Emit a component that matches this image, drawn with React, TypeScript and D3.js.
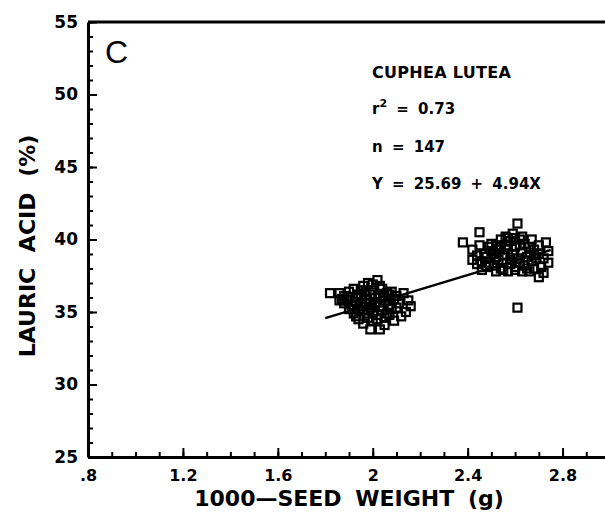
import React, { useEffect, useRef } from "react";
import * as d3 from "d3";

// seed weight (g) vs lauric acid (%) - Cuphea lutea
const smallSeeds: [number, number][] = [
  [1.82, 36.3], [1.86, 36.3], [1.88, 36.1], [1.9, 36.4], [1.92, 36.6], [1.94, 36.2],
  [1.96, 36.8], [1.98, 37.0], [2.02, 37.2], [2.0, 36.5], [2.04, 36.6], [2.06, 36.3],
  [2.08, 36.4], [2.1, 36.1], [2.13, 36.3], [2.15, 35.8], [2.16, 35.4], [2.14, 35.0],
  [2.12, 34.7], [2.09, 34.4], [2.05, 34.1], [2.03, 33.8], [1.99, 33.8], [1.96, 34.2],
  [1.94, 34.5], [1.92, 34.9], [1.9, 35.2], [1.88, 35.6], [1.87, 35.9], [1.89, 35.8],
  [1.91, 35.5], [1.93, 35.7], [1.95, 35.4], [1.97, 35.6], [1.99, 35.3], [2.01, 35.7],
  [2.03, 35.4], [2.05, 35.8], [2.07, 35.5], [2.09, 35.9], [2.11, 35.6], [1.93, 36.0],
  [1.95, 36.1], [1.97, 35.9], [1.99, 36.2], [2.01, 36.0], [2.03, 36.1], [2.05, 36.0],
  [2.07, 36.2], [1.96, 35.1], [1.98, 34.9], [2.0, 35.0], [2.02, 34.8], [2.04, 35.1],
  [2.06, 34.9], [2.08, 35.2], [2.1, 35.3], [1.94, 35.2], [1.92, 35.4], [1.98, 34.6],
  [2.0, 34.4], [2.02, 34.5], [1.97, 36.4], [2.03, 36.8], [1.99, 35.6], [2.01, 35.5],
  [2.05, 34.6], [1.95, 36.5], [2.0, 36.9], [1.9, 36.0], [1.86, 35.8], [2.07, 34.8],
  [1.93, 34.7],
];

const largeSeeds: [number, number][] = [
  [2.38, 39.8], [2.45, 40.5], [2.61, 41.1], [2.73, 39.8], [2.61, 35.3], [2.7, 37.4],
  [2.72, 37.7], [2.42, 39.3], [2.44, 38.9], [2.46, 38.5], [2.48, 38.8], [2.5, 39.2],
  [2.52, 39.6], [2.54, 40.0], [2.56, 40.2], [2.58, 39.9], [2.6, 40.1], [2.62, 40.0],
  [2.64, 39.7], [2.66, 39.5], [2.68, 39.3], [2.7, 39.0], [2.72, 38.7], [2.74, 38.4],
  [2.71, 38.1], [2.68, 38.0], [2.66, 37.8], [2.63, 37.8], [2.6, 37.9], [2.57, 37.8],
  [2.54, 38.0], [2.51, 38.2], [2.49, 38.4], [2.47, 39.0], [2.49, 39.5], [2.51, 39.0],
  [2.53, 38.6], [2.55, 38.9], [2.57, 39.3], [2.59, 39.0], [2.61, 38.7], [2.63, 39.1],
  [2.65, 38.8], [2.67, 38.5], [2.69, 38.7], [2.55, 38.4], [2.58, 38.3], [2.62, 38.4],
  [2.64, 38.2], [2.52, 38.8], [2.56, 39.6], [2.6, 39.5], [2.62, 39.6], [2.66, 39.1],
  [2.5, 39.7], [2.53, 39.3], [2.58, 38.6], [2.44, 38.3], [2.46, 37.9], [2.42, 38.6],
  [2.7, 39.6], [2.74, 39.2], [2.59, 40.4], [2.63, 40.2], [2.57, 40.1], [2.65, 38.0],
  [2.68, 38.9], [2.48, 38.1], [2.52, 37.8], [2.6, 38.1], [2.45, 39.6], [2.54, 39.5],
  [2.67, 40.0], [2.55, 37.9],
];

const fitIntercept = 25.69;
const fitSlope = 4.94;
const fitRange = [1.8, 2.75];

const xTicks = [0.8, 1.2, 1.6, 2.0, 2.4, 2.8];
const xTickLabels = [".8", "1.2", "1.6", "2", "2.4", "2.8"];
const yTicks = [25, 30, 35, 40, 45, 50, 55];

const notes = ["CUPHEA LUTEA", " = 0.73", "n = 147", "Y = 25.69 + 4.94X"];

const BOLD = "'DejaVu Sans', Verdana, sans-serif";
const PLAIN = "'Liberation Sans', Arial, sans-serif";

export default function App() {
  const svgRef = useRef<SVGSVGElement>(null);

  useEffect(() => {
    const svg = d3.select(svgRef.current);
    svg.selectAll("*").remove();

    const x = d3.scaleLinear().domain([0.8, 3.0]).range([88, 610]);
    const y = d3.scaleLinear().domain([25, 55]).range([457, 22]);

    // minor ticks, every 0.1 g and every 1 %
    const xMinor = d3.range(0.8, 3.0, 0.1).map((v) => +v.toFixed(1));
    const yMinor = d3.range(25, 56, 1);

    const gxm = svg.append("g")
      .attr("transform", `translate(0,${y(25)})`)
      .call(d3.axisBottom(x).tickValues(xMinor).tickSize(-5));
    gxm.select(".domain").remove();
    gxm.selectAll("text").remove();
    gxm.selectAll("line").attr("stroke-width", 2);

    const gym = svg.append("g")
      .attr("transform", `translate(${x(0.8)},0)`)
      .call(d3.axisLeft(y).tickValues(yMinor).tickSize(-5));
    gym.select(".domain").remove();
    gym.selectAll("text").remove();
    gym.selectAll("line").attr("stroke-width", 2);

    // major axes
    const xAxis = svg.append("g")
      .attr("transform", `translate(0,${y(25)})`)
      .call(d3.axisBottom(x).tickValues(xTicks).tickSize(-9).tickSizeOuter(0)
        .tickFormat((d, i) => xTickLabels[i]));
    xAxis.select(".domain").attr("stroke-width", 3);
    xAxis.selectAll("line").attr("stroke-width", 2);
    xAxis.selectAll("text")
      .attr("y", 13)
      .attr("font-family", BOLD)
      .attr("font-weight", "bold")
      .attr("font-size", 16)
      .attr("fill", "#000");

    const yAxis = svg.append("g")
      .attr("transform", `translate(${x(0.8)},0)`)
      .call(d3.axisLeft(y).tickValues(yTicks).tickSize(-9).tickSizeOuter(0));
    yAxis.select(".domain").attr("stroke-width", 3);
    yAxis.selectAll("line").attr("stroke-width", 2);
    yAxis.selectAll("text")
      .attr("x", -10)
      .attr("font-family", BOLD)
      .attr("font-weight", "bold")
      .attr("font-size", 17)
      .attr("fill", "#000");

    // top frame
    svg.append("line")
      .attr("x1", x(0.8)).attr("x2", x(3.0))
      .attr("y1", y(55)).attr("y2", y(55))
      .attr("stroke", "#000").attr("stroke-width", 3);

    // regression line
    svg.append("line")
      .attr("x1", x(fitRange[0])).attr("y1", y(fitIntercept + fitSlope * fitRange[0]))
      .attr("x2", x(fitRange[1])).attr("y2", y(fitIntercept + fitSlope * fitRange[1]))
      .attr("stroke", "#000").attr("stroke-width", 2.4);

    // points
    const pts = smallSeeds.concat(largeSeeds);
    svg.append("g")
      .selectAll("rect")
      .data(pts)
      .enter()
      .append("rect")
      .attr("x", (d) => x(d[0]) - 4)
      .attr("y", (d) => y(d[1]) - 4)
      .attr("width", 8)
      .attr("height", 8)
      .attr("fill", "none")
      .attr("stroke", "#000")
      .attr("stroke-width", 2.2);

    // panel letter
    svg.append("text")
      .attr("x", 105).attr("y", 63)
      .attr("font-family", PLAIN)
      .attr("font-size", 32)
      .text("C");

    // annotations
    const ann = svg.append("g")
      .attr("font-family", BOLD)
      .attr("font-weight", "bold")
      .attr("font-size", 15);
    const lineY = [78, 114, 152, 189];
    ann.append("text").attr("x", 372).attr("y", lineY[0])
      .attr("font-size", 16).attr("letter-spacing", 0.3).text(notes[0]);
    const r = ann.append("text").attr("x", 372).attr("y", lineY[1]);
    r.append("tspan").text("r");
    r.append("tspan").attr("dy", -7).attr("font-size", 11).text("2");
    r.append("tspan").attr("dy", 7).attr("word-spacing", 4).text(notes[1]);
    ann.append("text").attr("x", 372).attr("y", lineY[2])
      .attr("word-spacing", 4).text(notes[2]);
    ann.append("text").attr("x", 372).attr("y", lineY[3])
      .attr("word-spacing", 4).text(notes[3]);

    // axis titles
    svg.append("text")
      .attr("x", 349).attr("y", 506)
      .attr("text-anchor", "middle")
      .attr("font-family", BOLD)
      .attr("font-weight", "bold")
      .attr("font-size", 22)
      .attr("word-spacing", 6)
      .text("1000\u2014SEED WEIGHT (g)");

    svg.append("text")
      .attr("transform", "translate(35,246) rotate(-90)")
      .attr("text-anchor", "middle")
      .attr("font-family", BOLD)
      .attr("font-weight", "bold")
      .attr("font-size", 22)
      .attr("word-spacing", 8)
      .text("LAURIC ACID (%)");
  }, []);

  return (
    <svg
      ref={svgRef}
      width={605}
      height={515}
      style={{ position: "absolute", left: 0, top: 0, background: "#fff" }}
    />
  );
}
